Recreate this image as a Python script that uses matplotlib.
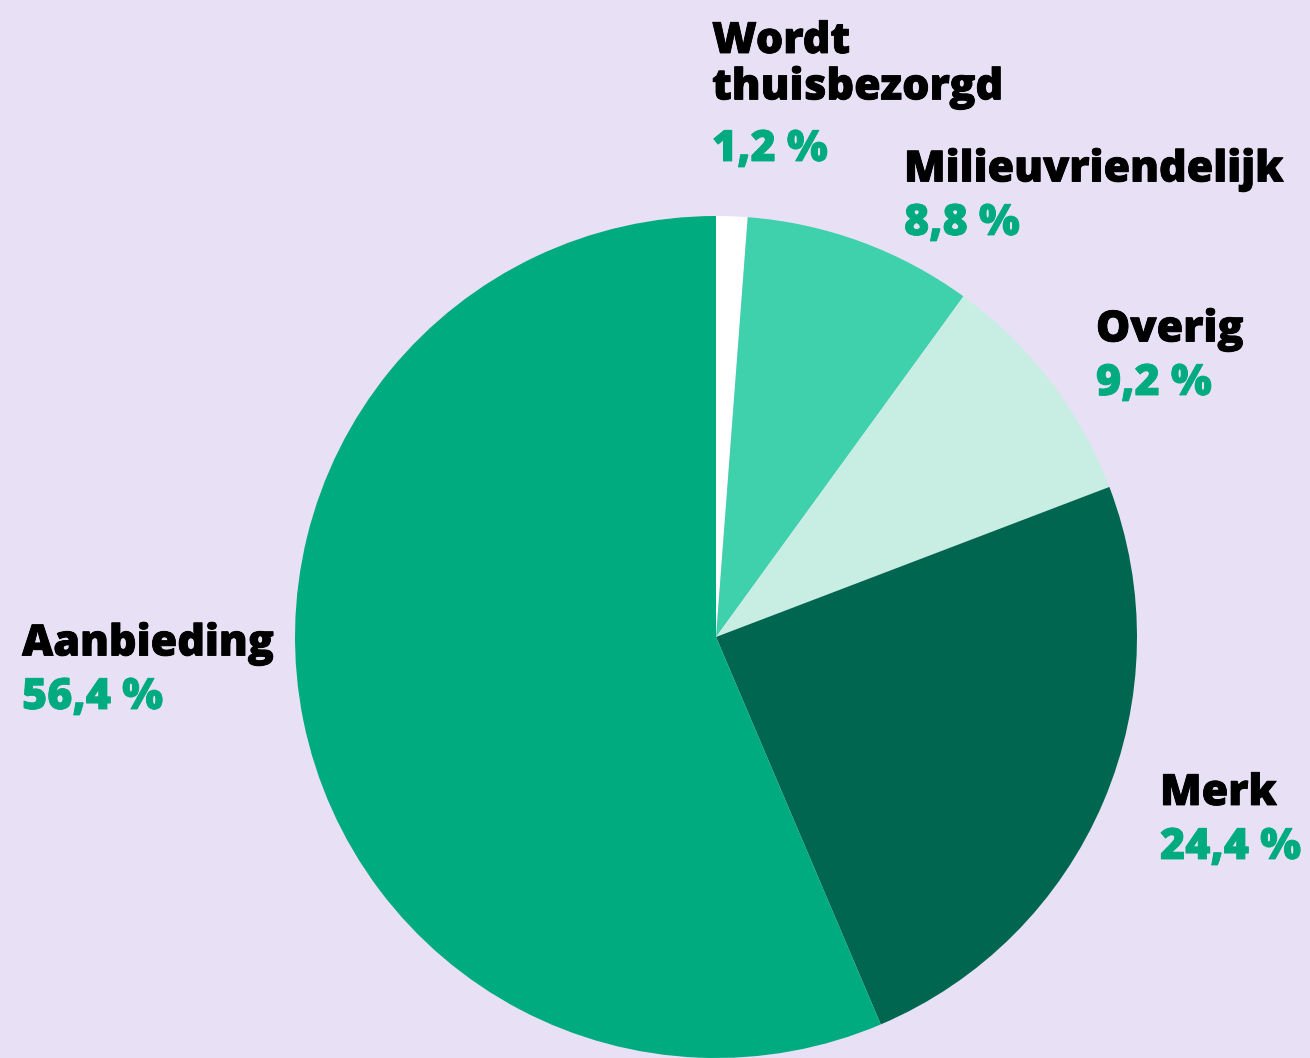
import matplotlib
matplotlib.use("Agg")
import matplotlib.pyplot as plt
import matplotlib.patheffects as pe

# data
labels = ["Wordt\nthuisbezorgd", "Milieuvriendelijk", "Overig", "Merk", "Aanbieding"]
values = [1.2, 8.8, 9.2, 24.4, 56.4]
value_labels = ["1,2 %", "8,8 %", "9,2 %", "24,4 %", "56,4 %"]
colors = ["#ffffff", "#3fd0ac", "#c8eee4", "#00664f", "#00ab80"]

BG = "#e8e0f5"
GREEN = "#00ab80"

plt.rcParams["font.family"] = ["Open Sans", "DejaVu Sans"]

W, H = 1310, 1058
fig = plt.figure(figsize=(W / 100, H / 100), dpi=100, facecolor=BG)

# pie centre (716, 637) px from top, radius 421 px
cx, cy, r = 716, 637, 421
ax = fig.add_axes([(cx - r) / W, 1 - (cy + r) / H, 2 * r / W, 2 * r / H])
ax.set_facecolor(BG)
ax.pie(values, colors=colors, startangle=90, counterclock=False,
       radius=1, wedgeprops=dict(linewidth=0))
ax.set_xlim(-1, 1)
ax.set_ylim(-1, 1)
ax.set_aspect("equal")
ax.axis("off")

# label anchors (left x, top y of first line) in pixels from top-left
anchors = [(712, 21), (904, 149), (1096, 309), (1160, 773), (22, 623)]

fs = 31
line = 54
for lab, vl, (x, y) in zip(labels, value_labels, anchors):
    nlines = lab.count("\n") + 1
    t = fig.text(x / W, 1 - y / H, lab, fontsize=fs, fontweight="heavy",
                 color="#000000", ha="left", va="top", linespacing=1.12)
    t.set_path_effects([pe.withStroke(linewidth=0.6, foreground="#000000")])
    v = fig.text(x / W, 1 - (y + nlines * line) / H, vl, fontsize=fs,
                 fontweight="heavy", color=GREEN, ha="left", va="top")
    v.set_path_effects([pe.withStroke(linewidth=0.6, foreground=GREEN)])

fig.savefig("out.png", dpi=100, facecolor=BG)
